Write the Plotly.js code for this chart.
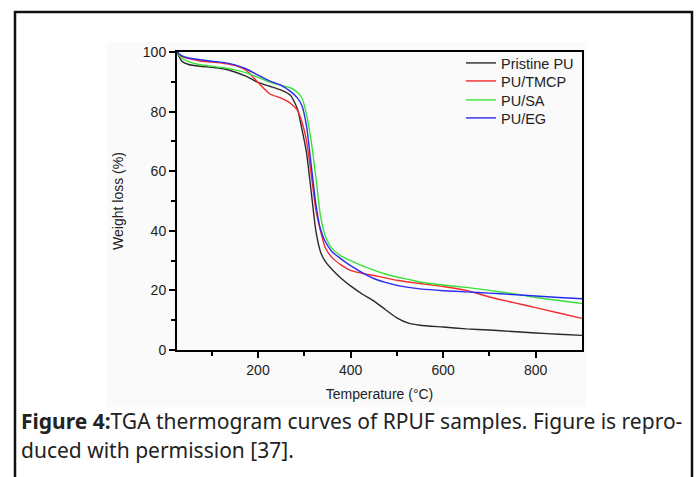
<!DOCTYPE html>
<html>
<head>
<meta charset="utf-8">
<script src="https://cdn.plot.ly/plotly-3.0.1.min.js"></script>
<style>
  html, body { margin: 0; padding: 0; background: #fff; }
  #chart { width: 696px; height: 477px; }
</style>
</head>
<body>
<div id="chart"></div>
<script>
// Temperature grid (°C)
const temperature = [25, 35, 50, 75, 100, 125, 150, 175, 200, 225, 250, 270, 285, 295, 305, 315, 325, 335, 345, 360, 380, 400, 425, 450, 475, 500, 525, 550, 600, 650, 700, 750, 800, 850, 900];

// Weight (%) for each sample
const pristinePU = [100, 97, 95.8, 95.2, 94.9, 94.4, 93.3, 91.8, 89.8, 88.5, 87.2, 85.5, 81, 74, 66, 53, 40, 33, 29.8, 27, 24, 21.5, 18.8, 16.5, 13.6, 10.8, 9.0, 8.3, 7.7, 7.1, 6.7, 6.2, 5.7, 5.3, 4.9];
const puTMCP    = [100, 98.5, 97.8, 97.0, 96.6, 96.2, 95.5, 93.8, 89.8, 86.0, 84.5, 82.8, 80.5, 76.5, 70, 59, 47, 40, 34.5, 31, 28.5, 26.7, 25.7, 25.0, 24.2, 23.4, 22.8, 22.3, 21.3, 20.0, 17.8, 16.0, 14.2, 12.4, 10.6];
const puSA      = [100, 98, 96.8, 95.7, 95.2, 94.7, 94.0, 93.0, 91.5, 89.9, 88.8, 88.0, 86.5, 84.5, 79, 70, 58, 45, 38.5, 34, 31.5, 30.0, 28.3, 26.8, 25.5, 24.5, 23.7, 22.8, 21.8, 21.0, 20.0, 18.9, 17.6, 16.6, 15.6];
const puEG      = [100, 98.8, 98.0, 97.4, 96.9, 96.5, 95.7, 94.3, 92.2, 90.3, 88.8, 86.8, 84.6, 82, 75, 62, 49, 40.5, 36.5, 33, 30.5, 28.3, 26.0, 24.0, 22.7, 21.7, 21.0, 20.5, 19.9, 19.5, 19.1, 18.6, 18.1, 17.6, 17.2];

const seriesNames = ["Pristine PU", "PU/TMCP", "PU/SA", "PU/EG"];
const seriesValues = [pristinePU, puTMCP, puSA, puEG];
const seriesColors = ["#2a2a2a", "#f22a2a", "#3ae03a", "#2a2af0"];

const xTickVals = [200, 400, 600, 800];
const yTickVals = [0, 20, 40, 60, 80, 100];

const captionLine1 = "<b>Figure 4:</b>TGA thermogram curves of RPUF samples. Figure is repro-";
const captionLine2 = "duced with permission [37].";

// plot area in pixels
const L = 177, R = 582, T = 52, B = 350;
const W = 696, H = 477;
const px = v => (v - L) / (R - L);
const py = v => (B - v) / (B - T);

const legendIds = ["legend", "legend2", "legend3", "legend4"];
const legendRowsPx = [63, 81, 100, 118];

const traces = seriesNames.map((n, i) => ({
  x: temperature,
  y: seriesValues[i],
  type: "scatter",
  mode: "lines",
  name: n,
  legend: legendIds[i],
  line: { color: seriesColors[i], width: 1.4, shape: "spline", smoothing: 0.6 }
}));

const axisCommon = {
  showgrid: false,
  zeroline: false,
  showline: true,
  linecolor: "#000",
  linewidth: 2,
  mirror: true,
  ticks: "outside",
  ticklen: 6,
  tickwidth: 2,
  tickcolor: "#000",
  tickfont: { family: "Liberation Sans, Arial, sans-serif", size: 14, color: "#222" }
};

const layout = {
  width: W,
  height: H,
  margin: { l: L, r: W - R, t: T, b: H - B },
  paper_bgcolor: "#ffffff",
  plot_bgcolor: "rgba(0,0,0,0)",
  showlegend: true,
  xaxis: Object.assign({}, axisCommon, {
    range: [25, 900],
    tickvals: xTickVals,
    ticktext: xTickVals.map(String),
    minor: { tickvals: [100, 300, 500, 700], ticklen: 4, tickwidth: 2, tickcolor: "#000", ticks: "outside" },
    title: { text: "Temperature (°C)", font: { family: "Liberation Sans, Arial, sans-serif", size: 14, color: "#222" }, standoff: 12 }
  }),
  yaxis: Object.assign({}, axisCommon, {
    range: [0, 100],
    tickvals: yTickVals,
    ticktext: yTickVals.map(String),
    minor: { tickvals: [10, 30, 50, 70, 90], ticklen: 4, tickwidth: 2, tickcolor: "#000", ticks: "outside" },
    title: { text: "Weight loss (%)", font: { family: "Liberation Sans, Arial, sans-serif", size: 14, color: "#222" }, standoff: 16 }
  }),
  shapes: [
    { type: "rect", xref: "paper", yref: "paper", layer: "below",
      x0: px(107), x1: px(587), y0: py(407), y1: py(42),
      fillcolor: "#fafafa", line: { width: 0 } },
    { type: "rect", xref: "paper", yref: "paper", layer: "above",
      x0: px(15), x1: px(692), y0: py(490), y1: py(12),
      fillcolor: "rgba(0,0,0,0)", line: { color: "#111", width: 2.5 } }
  ],
  annotations: [
    { xref: "paper", yref: "paper", x: px(19), y: py(421), xanchor: "left", yanchor: "middle",
      showarrow: false, text: captionLine1,
      font: { family: "Noto Sans, sans-serif", size: 21, color: "#222" } },
    { xref: "paper", yref: "paper", x: px(19), y: py(450), xanchor: "left", yanchor: "middle",
      showarrow: false, text: captionLine2,
      font: { family: "Noto Sans, sans-serif", size: 21, color: "#222" } }
  ]
};

legendIds.forEach((id, i) => {
  layout[id] = {
    x: px(461), y: py(legendRowsPx[i]), xanchor: "left", yanchor: "middle",
    bgcolor: "rgba(0,0,0,0)",
    font: { family: "Liberation Sans, Arial, sans-serif", size: 14.5, color: "#222" },
    itemwidth: 30, tracegroupgap: 0
  };
});

Plotly.newPlot("chart", traces, layout, { displayModeBar: false, staticPlot: true });
</script>
</body>
</html>
